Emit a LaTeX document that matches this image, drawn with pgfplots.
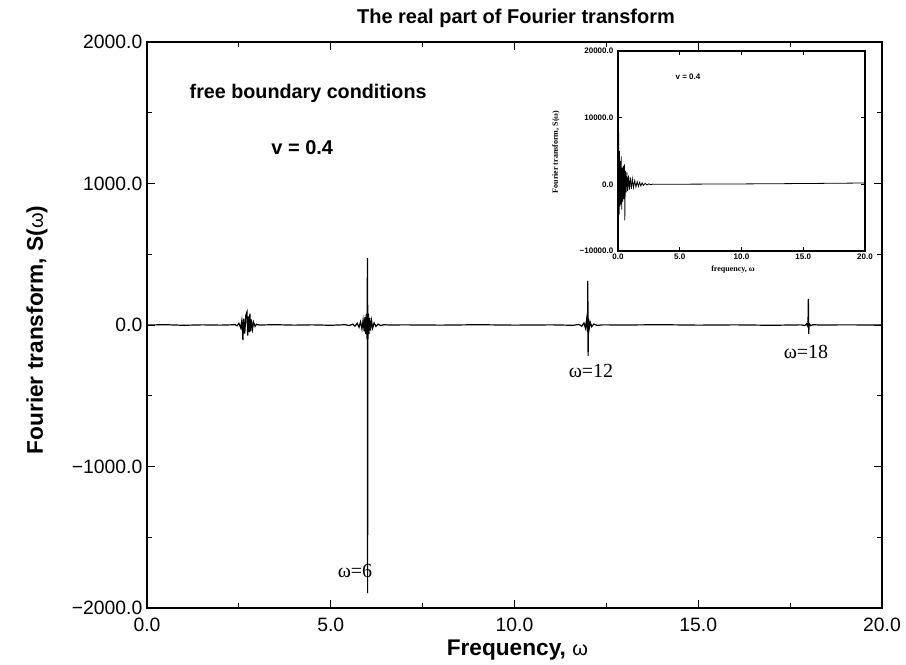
\documentclass[border=0pt]{standalone}
\usepackage{pgfplots}
\pgfplotsset{compat=1.18}
\usepackage{fontspec}
\setmainfont{Liberation Sans}
\newfontfamily\serif{Liberation Serif}
\pgfplotstableread{
x y
0.0 0
0.5 2
1.0 -2
1.5 1
2.0 -1
2.40 2
2.45 -6
2.50 12
2.55 -20
2.58 30
2.61 -106
2.63 45
2.66 -60
2.69 70
2.72 92
2.74 -75
2.76 60
2.78 -50
2.80 80
2.82 -45
2.84 40
2.87 -30
2.90 20
2.94 -10
2.98 5
3.05 0
3.5 2
4.0 -1
4.5 1
5.0 -2
5.40 2
5.50 -4
5.60 6
5.66 -8
5.72 12
5.77 -16
5.81 22
5.85 -28
5.88 35
5.91 -45
5.93 55
5.95 -65
5.97 80
5.985 -100
5.993 150
5.998 473
6.003 -1894
6.008 140
6.015 -100
6.025 80
6.04 -65
6.06 50
6.08 -40
6.11 30
6.14 -22
6.18 15
6.23 -10
6.29 6
6.36 -4
6.45 2
6.6 0
7.0 1
8.0 -1
9.0 2
10.0 -1
11.0 1
11.6 -2
11.75 4
11.83 -8
11.89 14
11.93 -22
11.96 35
11.985 -50
11.995 311
12.003 -219
12.012 45
12.03 -30
12.06 20
12.10 -12
12.16 7
12.25 -3
12.4 1
13.0 0
14.0 2
15.0 -1
16.0 1
17.0 -2
17.8 1
17.9 -4
17.95 8
17.985 -12
17.996 184
18.004 -64
18.02 10
18.06 -5
18.12 2
18.3 0
19.0 1
20.0 0
}\maindata
\pgfplotstableread{
x y
0.00 9500
0.03 -2000
0.06 7800
0.09 -4500
0.12 5000
0.15 -3300
0.18 3500
0.22 -3000
0.26 4200
0.30 -3800
0.34 2500
0.38 -2600
0.42 2800
0.47 -2200
0.52 3000
0.55 -5400
0.60 2000
0.66 -1200
0.72 1800
0.78 -1000
0.85 1300
0.92 -800
1.00 1000
1.08 -700
1.16 800
1.25 -500
1.35 550
1.45 -400
1.55 400
1.65 -300
1.75 300
1.85 -250
1.95 220
2.05 -180
2.20 150
2.35 -100
2.50 80
2.65 -50
2.80 30
3.00 0
5.00 20
10.00 60
15.00 120
20.00 200
}\insetdata
\begin{document}
\begin{tikzpicture}
\useasboundingbox (0,0) rectangle (679.5pt,498pt);
\begin{axis}[
  at={(110.25pt,42pt)}, anchor=south west,
  scale only axis, width=551.25pt, height=424.5pt,
  xmin=0, xmax=20, ymin=-2000, ymax=2000,
  xtick={0,5,10,15,20},
  xticklabels={0.0,5.0,10.0,15.0,20.0},
  ytick={-2000,-1000,0,1000,2000},
  yticklabels={−2000.0,−1000.0,0.0,1000.0,2000.0},
  minor x tick num=1, minor y tick num=1,
  tick align=inside,
  major tick length=6pt, minor tick length=3.5pt,
  ticklabel style={font=\fontsize{14.5}{16}\selectfont},
  xticklabel style={yshift=-4pt},
  axis line style={line width=1pt},
  every tick/.style={black, line width=0.6pt},
]
\addplot[black, line width=0.9pt] table[x=x,y=y] {\maindata};
\end{axis}
\begin{axis}[
  at={(463.5pt,309.75pt)}, anchor=south west,
  scale only axis, width=185.25pt, height=150pt,
  axis background/.style={fill=white},
  xmin=0, xmax=20, ymin=-10000, ymax=20000,
  scaled y ticks=false, scaled x ticks=false,
  xtick={0,5,10,15,20},
  xticklabels={0.0,5.0,10.0,15.0,20.0},
  ytick={-10000,0,10000,20000},
  yticklabels={−10000.0,0.0,10000.0,20000.0},
  tick align=inside,
  major tick length=3pt,
  ticklabel style={font=\fontsize{6}{7}\bfseries},
  xticklabel style={yshift=1pt},
  axis line style={line width=0.9pt},
  every tick/.style={black, line width=0.5pt},
]
\addplot[black, line width=0.6pt] table[x=x,y=y] {\insetdata};
\end{axis}
% inset texts
\node[font=\fontsize{6}{7}\bfseries] at (516pt,440.25pt) {v = 0.4};
\node[font=\serif\fontsize{6}{7}\bfseries] at (549.75pt,295.5pt) {frequency, ω};
\node[font=\serif\fontsize{6}{7}\bfseries, rotate=90] at (417pt,384pt) {Fourier transform, S(ω)};
% main texts
\node[font=\fontsize{15}{17}\bfseries] at (387pt,484.5pt) {The real part of Fourier transform};
\node[font=\fontsize{17}{19}\bfseries] at (388pt,10.5pt) {Frequency, {\mdseries\fontsize{15}{17}\selectfont ω}};
\node[font=\fontsize{17}{19}\bfseries, rotate=90] at (27.75pt,250.5pt) {Fourier transform, S({\mdseries\fontsize{15}{17}\selectfont ω})};
\node[font=\fontsize{14.8}{17}\bfseries, anchor=west] at (138.75pt,428.25pt) {free boundary conditions};
\node[font=\fontsize{15}{17}\bfseries, anchor=west] at (200pt,387pt) {v = 0.4};
\node[font=\serif\fontsize{15}{17}\selectfont] at (266.25pt,69.75pt) {ω=6};
\node[font=\serif\fontsize{15}{17}\selectfont] at (443.25pt,219.75pt) {ω=12};
\node[font=\serif\fontsize{15}{17}\selectfont] at (604.5pt,234pt) {ω=18};
\end{tikzpicture}
\end{document}
